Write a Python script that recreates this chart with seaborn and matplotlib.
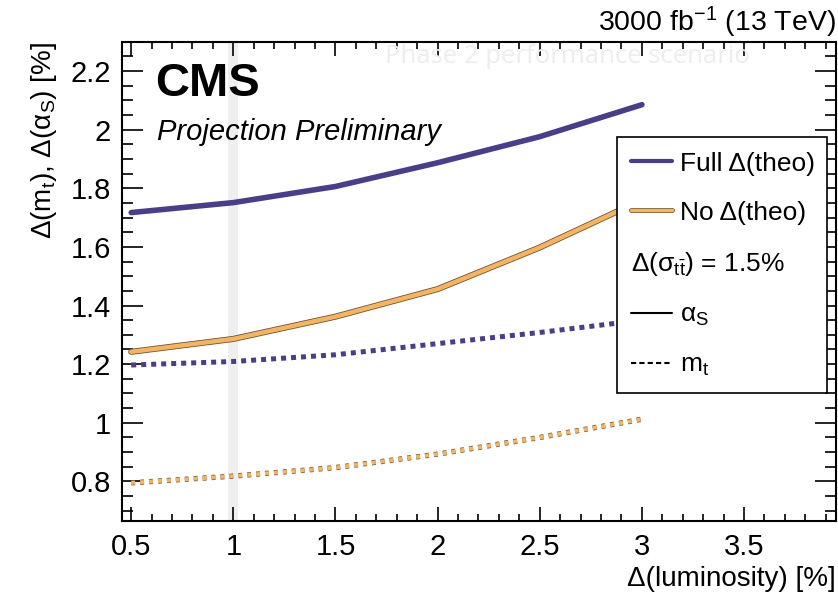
import matplotlib
matplotlib.use("Agg")
import matplotlib.pyplot as plt
import matplotlib.patheffects as pe
from matplotlib.lines import Line2D
from matplotlib.ticker import MultipleLocator, FormatStrFormatter
import seaborn as sns

# --- data ---
lumi = [0.5, 1.0, 1.5, 2.0, 2.5, 3.0]
alphas_full = [1.717, 1.751, 1.806, 1.887, 1.976, 2.085]
alphas_notheo = [1.242, 1.286, 1.362, 1.456, 1.598, 1.760]
mt_full = [1.197, 1.209, 1.232, 1.270, 1.308, 1.350]
mt_notheo = [0.795, 0.818, 0.847, 0.893, 0.950, 1.012]

purple = "#4b3d88"
orange = "#f4b463"
edge = "#6b5634"

sns.set_style("ticks")
plt.rcParams["font.family"] = ["Liberation Sans", "DejaVu Sans"]
plt.rcParams["mathtext.fontset"] = "custom"
plt.rcParams["mathtext.rm"] = "Liberation Sans"
plt.rcParams["mathtext.it"] = "Liberation Sans:italic"
plt.rcParams["mathtext.default"] = "regular"
plt.rcParams["text.color"] = "black"
plt.rcParams["axes.labelcolor"] = "black"

fig = plt.figure(figsize=(8.38, 5.92), dpi=100)
ax = fig.add_axes([0.1456, 0.12, 0.852, 0.8096])

# grey band marking the nominal 1% uncertainty
ax.axvline(1.0, color="#efefef", lw=7.2, zorder=0)

sns.lineplot(x=lumi, y=alphas_full, color=purple, lw=4, ax=ax)
sns.lineplot(x=lumi, y=alphas_notheo, color=orange, lw=3.2, ax=ax,
             path_effects=[pe.Stroke(linewidth=4.4, foreground=edge), pe.Normal()])
sns.lineplot(x=lumi, y=mt_full, color=purple, lw=3.6, linestyle=(0, (1, 1)), ax=ax)
sns.lineplot(x=lumi, y=mt_notheo, color=orange, lw=2.8, linestyle=(0, (1, 1.3)), ax=ax,
             path_effects=[pe.Stroke(linewidth=3.8, foreground=edge), pe.Normal()])

ax.set_xlim(0.455, 3.95)
ax.set_ylim(0.665, 2.3)
ax.xaxis.set_major_locator(MultipleLocator(0.5))
ax.xaxis.set_minor_locator(MultipleLocator(0.1))
ax.yaxis.set_major_locator(MultipleLocator(0.2))
ax.yaxis.set_minor_locator(MultipleLocator(0.05))
ax.xaxis.set_major_formatter(FormatStrFormatter("%g"))
ax.yaxis.set_major_formatter(FormatStrFormatter("%g"))
ax.tick_params(which="both", direction="in", top=True, right=True, width=1.2,
               labelsize=21, colors="black")
ax.tick_params(axis="x", which="major", length=10, pad=9)
ax.tick_params(axis="x", which="minor", length=5)
ax.tick_params(axis="y", which="major", length=15, pad=8)
ax.tick_params(axis="y", which="minor", length=8)
for s in ax.spines.values():
    s.set_linewidth(1.5)
    s.set_color("black")

ax.set_xlabel("Δ(luminosity) [%]", fontsize=20, loc="right", labelpad=3)
ax.set_ylabel("Δ(m$_{t}$), Δ(α$_{S}$) [%]", fontsize=20, loc="top", labelpad=8)

# legend
handles = [
    Line2D([], [], color=purple, lw=3),
    Line2D([], [], color=orange, lw=2.5,
           path_effects=[pe.Stroke(linewidth=3.5, foreground=edge), pe.Normal()]),
    Line2D([], [], color="none"),
    Line2D([], [], color="black", lw=1.5),
    Line2D([], [], color="black", lw=1.5, linestyle=(0, (2.5, 1.5))),
]
labels = ["Full Δ(theo)", "No Δ(theo)", r"Δ(σ$_{t\bar{t}}$) = 1.5%",
          "α$_{S}$", "m$_{t}$"]
leg = ax.legend(handles, labels, loc="upper left",
                bbox_to_anchor=(0.693, 0.263, 0.294, 0.538), mode="expand",
                fontsize=19, frameon=True, fancybox=False, edgecolor="black",
                framealpha=1, handlelength=1.55, handletextpad=0.3,
                labelspacing=0.95, borderpad=0.55, borderaxespad=0)
leg.get_frame().set_linewidth(1.2)
row = leg._legend_handle_box.get_children()[0].get_children()[2]
row.sep = 0
row.get_children()[0].width = 0

# annotations
ax.text(0.047, 0.958, "CMS", transform=ax.transAxes, fontsize=34,
        fontweight="bold", va="top", ha="left")
ax.text(0.049, 0.84, "Projection Preliminary", transform=ax.transAxes,
        fontsize=21, style="italic", va="top", ha="left")
fig.text(0.998, 0.962, "3000 fb$^{-1}$ (13 TeV)", fontsize=20.5, ha="right", va="center")
fig.text(0.46, 0.904, "Phase 2 performance scenario", fontsize=18.5,
         family="Open Sans", color="#ededed", ha="left", va="center")

fig.savefig("out.png", dpi=100)
